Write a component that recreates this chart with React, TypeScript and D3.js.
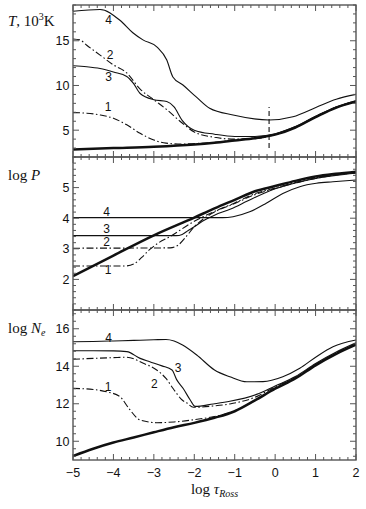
import React from 'react';
import * as d3 from 'd3';

type Pt = [number, number];

// x axis: log tau_Ross
const tauTicks = [-5, -4, -3, -2, -1, 0, 1, 2];

// panel 1: T, 10^3 K
const tempTicks = [5, 10, 15];
const tempThick: Pt[] = [[-5, 2.85], [-4, 3.0], [-3, 3.15], [-2, 3.4], [-1.5, 3.6], [-1, 3.85], [-0.5, 4.1], [0, 4.5], [0.5, 5.3], [1, 6.45], [1.5, 7.5], [2, 8.2]];
const temp1: Pt[] = [[-5, 6.96], [-4.66, 6.9], [-4.33, 6.7], [-4, 6.33], [-3.67, 5.6], [-3.34, 4.65], [-3, 3.9], [-2.7, 3.55], [-2.3, 3.45], [-2, 3.5], [-1.5, 3.65], [-1, 3.9], [-0.5, 4.15], [0, 4.55], [0.5, 5.35], [1, 6.5], [1.5, 7.55], [2, 8.25]];
const temp2: Pt[] = [[-5, 15.2], [-4.83, 15.1], [-4.66, 14.5], [-4.33, 13.4], [-4, 12.3], [-3.67, 11.4], [-3.34, 9.6], [-3, 8.4], [-2.68, 7.3], [-2.3, 5.8], [-2, 4.8], [-1.5, 4.2], [-1, 4.0], [-0.5, 4.05], [0, 4.5], [0.5, 5.3], [1, 6.45], [1.5, 7.5], [2, 8.2]];
const temp3: Pt[] = [[-5, 12.2], [-4.66, 12.1], [-4.33, 11.9], [-4, 11.5], [-3.67, 11.0], [-3.5, 10.2], [-3.34, 9.1], [-3, 8.4], [-2.68, 8.2], [-2.5, 7.6], [-2.3, 6.1], [-2, 5.0], [-1.5, 4.55], [-1, 4.3], [-0.5, 4.3], [0, 4.6], [0.5, 5.4], [1, 6.55], [1.5, 7.6], [2, 8.3]];
const temp4: Pt[] = [[-5, 18.3], [-4.33, 18.5], [-3.84, 17.3], [-3.52, 15.9], [-3.27, 15.1], [-2.92, 14.3], [-2.68, 12.85], [-2.53, 10.95], [-2.28, 10.05], [-1.96, 8.75], [-1.62, 7.45], [-1.04, 6.7], [-0.15, 6.14], [0.44, 6.5], [1.02, 7.56], [1.51, 8.45], [2, 9.0]];
const tempMarker: Pt[] = [[-0.15, 3.0], [-0.15, 7.6]];
const tempLabels: [string, number, number][] = [['4', -4.12, 17.3], ['2', -4.08, 13.4], ['3', -4.12, 11.0], ['1', -4.13, 7.56]];

// panel 2: log P
const presTicks = [2, 3, 4, 5];
const presThick: Pt[] = [[-5, 2.11], [-4, 2.78], [-3, 3.44], [-2, 4.02], [-1.5, 4.32], [-1, 4.6], [-0.5, 4.88], [0, 5.05], [0.5, 5.22], [1, 5.36], [1.5, 5.45], [2, 5.52]];
const pres1: Pt[] = [[-5, 2.44], [-3.7, 2.44], [-3.5, 2.5], [-3.3, 2.72], [-3.1, 2.98], [-2.9, 3.18], [-2.6, 3.4], [-2, 3.9], [-1.5, 4.22], [-1, 4.5], [-0.5, 4.8], [0, 4.99], [0.5, 5.17], [1, 5.32], [1.5, 5.42], [2, 5.5]];
const pres2: Pt[] = [[-5, 3.02], [-2.6, 3.03], [-2.4, 3.12], [-2.2, 3.4], [-2, 3.72], [-1.8, 3.95], [-1.5, 4.2], [-1, 4.48], [-0.5, 4.77], [0, 4.97], [0.5, 5.15], [1, 5.3], [1.5, 5.41], [2, 5.49]];
const pres3: Pt[] = [[-5, 3.43], [-2.45, 3.43], [-2.3, 3.47], [-2.15, 3.6], [-2, 3.72], [-1.8, 3.9], [-1.5, 4.1], [-1.1, 4.3], [-0.7, 4.55], [-0.3, 4.8], [0, 4.96], [0.5, 5.15], [1, 5.3], [1.5, 5.4], [2, 5.47]];
const pres4: Pt[] = [[-5, 4.02], [-1.3, 4.02], [-1.04, 4.05], [-0.63, 4.21], [-0.22, 4.49], [0.19, 4.81], [0.61, 5.03], [1.02, 5.14], [1.43, 5.19], [2, 5.25]];
const presLabels: [string, number, number][] = [['4', -4.17, 4.2], ['3', -4.17, 3.64], ['2', -4.17, 3.23], ['1', -4.13, 2.31]];

// panel 3: log Ne
const neTicks = [10, 12, 14, 16];
const neThick: Pt[] = [[-5, 9.21], [-4.5, 9.6], [-4, 9.93], [-3.5, 10.2], [-3, 10.48], [-2.5, 10.75], [-2, 10.98], [-1.5, 11.25], [-1, 11.6], [-0.5, 12.18], [0, 12.8], [0.5, 13.35], [1, 14.05], [1.5, 14.65], [2, 15.15]];
const ne1: Pt[] = [[-5, 12.82], [-4.5, 12.76], [-4.17, 12.64], [-3.84, 12.38], [-3.6, 11.7], [-3.34, 11.13], [-2.93, 10.99], [-2.5, 11.03], [-2, 11.15], [-1.5, 11.32], [-1.12, 11.52], [-0.8, 11.82], [-0.46, 12.25], [0, 12.85], [0.5, 13.38], [1, 14.08], [1.5, 14.68], [2, 15.18]];
const ne2: Pt[] = [[-5, 14.37], [-4.5, 14.42], [-4, 14.46], [-3.67, 14.48], [-3.26, 14.16], [-2.93, 13.8], [-2.7, 13.35], [-2.52, 12.8], [-2.3, 12.2], [-2.19, 12.05], [-2.02, 11.81], [-1.53, 11.88], [-1.12, 11.99], [-0.46, 12.38], [0, 12.9], [0.5, 13.4], [1, 14.1], [1.5, 14.7], [2, 15.2]];
const ne3: Pt[] = [[-5, 14.83], [-4.5, 14.83], [-4, 14.82], [-3.67, 14.78], [-3.34, 14.42], [-3.1, 14.24], [-2.8, 14.02], [-2.55, 13.8], [-2.44, 13.3], [-2.27, 12.8], [-2.1, 12.2], [-1.98, 11.86], [-1.53, 11.99], [-1.12, 12.13], [-0.46, 12.5], [0, 12.95], [0.5, 13.45], [1, 14.15], [1.5, 14.75], [2, 15.25]];
const ne4: Pt[] = [[-5, 15.31], [-4.5, 15.32], [-4, 15.35], [-3.5, 15.38], [-3, 15.41], [-2.7, 15.43], [-2.5, 15.35], [-2.29, 15.13], [-1.94, 14.6], [-1.5, 13.8], [-1.12, 13.44], [-0.7, 13.17], [-0.3, 13.18], [0.19, 13.44], [0.61, 13.89], [1.02, 14.51], [1.43, 15.04], [2, 15.4]];
const neLabels: [string, number, number][] = [['4', -4.12, 15.54], ['3', -2.4, 13.94], ['2', -2.99, 13.09], ['1', -4.13, 12.91]];

const W = 366;
const H = 509;
const left = 73;
const right = 356;
const ink = '#111';
const frame = '#555';
const sans = 'Liberation Sans, Arial, sans-serif';
const serif = 'Liberation Serif, Times New Roman, serif';
const dashDot = '7 2.5 1.5 2.5';

const x = d3.scaleLinear().domain([-5, 2]).range([left, right]);
const xMinor = d3.range(-5, 2.001, 0.2);

type Style = 'thick' | 'solid' | 'dashdot';
type Panel = {
  top: number; bottom: number; domain: [number, number];
  ticks: number[]; minor: number[];
  curves: [Pt[], Style][];
  labels: [string, number, number][];
};

const panels: Panel[] = [
  {
    top: 5, bottom: 157, domain: [2, 19], ticks: tempTicks, minor: d3.range(2, 19.01, 1),
    curves: [[tempThick, 'thick'], [temp1, 'dashdot'], [temp2, 'dashdot'], [temp3, 'solid'], [temp4, 'solid']],
    labels: tempLabels,
  },
  {
    top: 157, bottom: 310, domain: [1, 6], ticks: presTicks, minor: d3.range(1, 6.001, 0.2),
    curves: [[presThick, 'thick'], [pres1, 'dashdot'], [pres2, 'dashdot'], [pres3, 'solid'], [pres4, 'solid']],
    labels: presLabels,
  },
  {
    top: 310, bottom: 460, domain: [9, 17], ticks: neTicks, minor: d3.range(9.2, 17.001, 0.4),
    curves: [[neThick, 'thick'], [ne1, 'dashdot'], [ne2, 'dashdot'], [ne3, 'solid'], [ne4, 'solid']],
    labels: neLabels,
  },
];

const fmt = (v: number) => (v < 0 ? '\u2212' + Math.abs(v) : String(v));

function PanelView({ p, showX }: { p: Panel; showX: boolean }) {
  const y = d3.scaleLinear().domain(p.domain).range([p.bottom, p.top]);
  const line = d3.line<Pt>().x(d => x(d[0])).y(d => y(d[1])).curve(d3.curveMonotoneX);
  const isMajorX = (v: number) => Math.abs(v - Math.round(v)) < 1e-6;
  const isMajorY = (v: number) => p.ticks.some(t => Math.abs(t - v) < 1e-6);
  return (
    <g>
      <defs>
        <clipPath id={`clip-${p.top}`}>
          <rect x={left} y={p.top} width={right - left} height={p.bottom - p.top} />
        </clipPath>
      </defs>
      <g clipPath={`url(#clip-${p.top})`}>
        {p.curves.map(([data, style], i) => (
          <path
            key={i}
            d={line(data) || ''}
            fill="none"
            stroke={ink}
            strokeWidth={style === 'thick' ? 2.5 : 1.1}
            strokeDasharray={style === 'dashdot' ? dashDot : undefined}
            strokeLinejoin="round"
          />
        ))}
        {p.top === 5 && (
          <path d={line(tempMarker) || ''} fill="none" stroke={ink} strokeWidth={1.1} strokeDasharray="5 3" />
        )}
      </g>
      {p.labels.map(([t, a, b]) => (
        <text key={t} x={x(a)} y={y(b)} dy="0.35em" textAnchor="middle" fontFamily={sans} fontSize={12} fill={ink}>{t}</text>
      ))}
      {/* x ticks, top and bottom, inward */}
      {xMinor.map((v, i) => {
        const len = isMajorX(v) ? 6 : 3;
        return (
          <g key={`xt${i}`} stroke={frame} strokeWidth={1}>
            <line x1={x(v)} x2={x(v)} y1={p.bottom} y2={p.bottom - len} />
            <line x1={x(v)} x2={x(v)} y1={p.top} y2={p.top + len} />
          </g>
        );
      })}
      {/* y ticks, left and right, inward */}
      {p.minor.map((v, i) => {
        const len = isMajorY(v) ? 6 : 3;
        return (
          <g key={`yt${i}`} stroke={frame} strokeWidth={1}>
            <line x1={left} x2={left + len} y1={y(v)} y2={y(v)} />
            <line x1={right} x2={right - len} y1={y(v)} y2={y(v)} />
          </g>
        );
      })}
      {p.ticks.map(t => (
        <text key={`yl${t}`} x={69.5} y={y(t)} dy="0.36em" textAnchor="end" fontFamily={sans} fontSize={12.5} fill={ink}>{t}</text>
      ))}
      <rect x={left} y={p.top} width={right - left} height={p.bottom - p.top} fill="none" stroke={frame} strokeWidth={1.4} />
      {showX && tauTicks.map(t => (
        <text key={`xl${t}`} x={x(t)} y={477} textAnchor="middle" fontFamily={sans} fontSize={12.5} fill={ink}>{fmt(t)}</text>
      ))}
    </g>
  );
}

export default function App() {
  return (
    <div style={{ position: 'absolute', left: 0, top: 0, width: W, height: H, background: '#fff' }}>
      <svg width={W} height={H} viewBox={`0 0 ${W} ${H}`}>
        <rect width={W} height={H} fill="#fff" />
        {panels.map((p, i) => (
          <PanelView key={i} p={p} showX={i === panels.length - 1} />
        ))}
        <text x={8} y={26} fontFamily={serif} fontSize={15} fill={ink}>
          <tspan fontStyle="italic">T</tspan>
          <tspan>, 10</tspan>
          <tspan fontSize={10} dy={-6}>3</tspan>
          <tspan dy={6}>K</tspan>
        </text>
        <text x={8} y={180} fontFamily={serif} fontSize={15} fill={ink}>
          <tspan>log </tspan>
          <tspan fontStyle="italic">P</tspan>
        </text>
        <text x={8} y={333} fontFamily={serif} fontSize={15} fill={ink}>
          <tspan>log </tspan>
          <tspan fontStyle="italic">N</tspan>
          <tspan fontStyle="italic" fontSize={10} dy={3}>e</tspan>
        </text>
        <text x={(left + right) / 2} y={494} textAnchor="middle" fontFamily={serif} fontSize={15} fill={ink}>
          <tspan>log </tspan>
          <tspan fontStyle="italic">τ</tspan>
          <tspan fontStyle="italic" fontSize={10} dy={3}>Ross</tspan>
        </text>
      </svg>
    </div>
  );
}
